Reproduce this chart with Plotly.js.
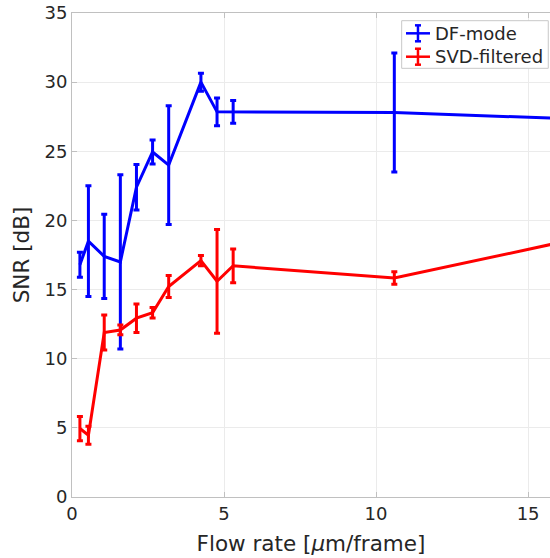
<!DOCTYPE html>
<html>
<head>
<meta charset="utf-8">
<script src="https://cdn.plot.ly/plotly-3.0.1.min.js"></script>
<style>
  html, body { margin: 0; padding: 0; background: #fff; }
  #chart { width: 550px; height: 558px; }
</style>
</head>
<body>
<div id="chart"></div>
<script>
// Flow rate (um/frame) at which each measurement was taken
const flowRate = [0.26, 0.54, 1.06, 1.59, 2.12, 2.65, 3.18, 4.24, 4.77, 5.30, 10.6, 16.0];

// DF-mode SNR (dB) and its error half-width
const dfSnr = [16.8, 18.5, 17.4, 17.0, 22.4, 24.95, 24.0, 30.0, 27.85, 27.85, 27.8, 27.38];
const dfErr = [0.9, 4.0, 3.05, 6.3, 1.65, 0.87, 4.3, 0.65, 1.0, 0.83, 4.3, 0.5];

// SVD-filtered SNR (dB) and its error half-width
const svdSnr = [4.95, 4.47, 11.9, 12.08, 12.93, 13.33, 15.22, 17.1, 15.6, 16.72, 15.83, 18.38];
const svdErr = [0.88, 0.65, 1.27, 0.35, 1.03, 0.38, 0.8, 0.37, 3.75, 1.22, 0.45, 0.5];

const seriesNames = ['DF-mode', 'SVD-filtered'];
const seriesColors = ['#0000ff', '#ff0000'];

const xTicks = [0, 5, 10, 15];
const yTicks = [0, 5, 10, 15, 20, 25, 30, 35];

const FONT = 'DejaVu Sans, sans-serif';
const TXT = '#262626';

function series(i, y, err) {
  return {
    type: 'scatter',
    mode: 'lines',
    name: seriesNames[i],
    x: flowRate,
    y: y,
    line: { color: seriesColors[i], width: 3 },
    error_y: { type: 'data', array: err, visible: true, color: seriesColors[i], thickness: 3, width: 3 }
  };
}

const data = [series(0, dfSnr, dfErr), series(1, svdSnr, svdErr)];

// Legend box drawn in paper coordinates, with an error-bar glyph per entry
const legendBox = { x0: 0.6897, x1: 0.9964, y0: 0.8857, y1: 0.9841 };
const legendRows = [0.9580, 0.9097];
const glyph = { x0: 0.6987, x1: 0.7490, xc: 0.7238, half: 0.0165, cap: 0.0063, textX: 0.7552 };

const shapes = [{
  type: 'rect', xref: 'paper', yref: 'paper',
  x0: legendBox.x0, x1: legendBox.x1, y0: legendBox.y0, y1: legendBox.y1,
  fillcolor: '#ffffff', line: { color: '#c8c8c8', width: 1 }, layer: 'above'
}];
const annotations = [];
legendRows.forEach(function (yc, i) {
  const c = seriesColors[i];
  const ln = { color: c, width: 2.5 };
  shapes.push({ type: 'line', xref: 'paper', yref: 'paper', x0: glyph.x0, x1: glyph.x1, y0: yc, y1: yc, line: ln, layer: 'above' });
  shapes.push({ type: 'line', xref: 'paper', yref: 'paper', x0: glyph.xc, x1: glyph.xc, y0: yc - glyph.half, y1: yc + glyph.half, line: ln, layer: 'above' });
  shapes.push({ type: 'line', xref: 'paper', yref: 'paper', x0: glyph.xc - glyph.cap, x1: glyph.xc + glyph.cap, y0: yc - glyph.half, y1: yc - glyph.half, line: ln, layer: 'above' });
  shapes.push({ type: 'line', xref: 'paper', yref: 'paper', x0: glyph.xc - glyph.cap, x1: glyph.xc + glyph.cap, y0: yc + glyph.half, y1: yc + glyph.half, line: ln, layer: 'above' });
  annotations.push({
    xref: 'paper', yref: 'paper', x: glyph.textX, y: yc,
    xanchor: 'left', yanchor: 'middle', showarrow: false,
    text: seriesNames[i], font: { family: FONT, size: 18, color: TXT }
  });
});

const axisCommon = {
  showline: true,
  linecolor: '#c0c0c0',
  linewidth: 1,
  showgrid: true,
  gridcolor: '#ebebeb',
  gridwidth: 1,
  zeroline: false,
  ticks: 'inside',
  ticklen: 5,
  tickcolor: '#c0c0c0',
  tickfont: { family: FONT, size: 18, color: TXT }
};

const layout = {
  width: 550,
  height: 558,
  margin: { l: 72, r: 0, t: 13, b: 61 },
  paper_bgcolor: '#ffffff',
  plot_bgcolor: '#ffffff',
  font: { family: FONT, color: TXT },
  showlegend: false,
  shapes: shapes,
  annotations: annotations,
  xaxis: Object.assign({}, axisCommon, {
    range: [0, 15.72],
    tickvals: xTicks,
    ticktext: xTicks.map(String),
    mirror: 'ticks',
    title: { text: 'Flow rate [<i>μ</i>m/frame]', font: { family: FONT, size: 21.5, color: TXT }, standoff: 13 }
  }),
  yaxis: Object.assign({}, axisCommon, {
    range: [0, 35],
    tickvals: yTicks,
    ticktext: yTicks.map(String),
    title: { text: 'SNR [dB]', font: { family: FONT, size: 21.5, color: TXT }, standoff: 8 }
  })
};

Plotly.newPlot('chart', data, layout, { displayModeBar: false, staticPlot: true });
</script>
</body>
</html>
